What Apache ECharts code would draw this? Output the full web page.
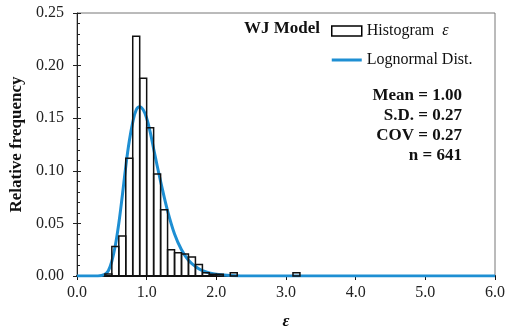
<!DOCTYPE html>
<html>
<head>
<meta charset="utf-8">
<script src="https://cdn.jsdelivr.net/npm/echarts@6/dist/echarts.min.js"></script>
<style>
  html, body { margin: 0; padding: 0; background: #fff; }
  #chart { width: 508px; height: 335px; }
</style>
</head>
<body>
<div id="chart"></div>
<script>
/* ── Data ──────────────────────────────────────────── */
// histogram bins (left edge, width 0.1) and relative frequency
const binStarts = [0.4, 0.5, 0.6, 0.7, 0.8, 0.9, 1.0, 1.1, 1.2, 1.3, 1.4, 1.5, 1.6, 1.7, 1.8, 1.9, 2.0, 2.2, 3.1];
const binFreq   = [0.002, 0.028, 0.038, 0.112, 0.228, 0.188, 0.141, 0.097, 0.063, 0.025, 0.022, 0.021, 0.018, 0.011, 0.003, 0.0016, 0.0016, 0.003, 0.003];
const binWidth = 0.1;

// lognormal curve, points
const curveX = [0, 0.3, 0.4, 0.45, 0.5, 0.55, 0.6, 0.65, 0.7, 0.75, 0.8, 0.85, 0.9, 0.95, 1.0, 1.05, 1.1, 1.15, 1.2, 1.3, 1.4, 1.5, 1.6, 1.7, 1.8, 1.9, 2.0, 2.2, 2.5, 3.0, 4.0, 5.0, 6.0];
const curveY = [0, 0, 0.0015, 0.005, 0.014, 0.029, 0.050, 0.076, 0.104, 0.128, 0.146, 0.158, 0.161, 0.158, 0.150, 0.137, 0.121, 0.105, 0.090, 0.062, 0.040, 0.025, 0.015, 0.009, 0.005, 0.003, 0.0017, 0.0005, 0, 0, 0, 0, 0];

const statLines = ["Mean = 1.00", "S.D. = 0.27", "COV = 0.27", "n = 641"];

const FONT = "'Liberation Serif', 'Times New Roman', serif";
const BLUE = "#1e8fd3";

const chart = echarts.init(document.getElementById("chart"));

const histData = binStarts.map((s, i) => [s, s + binWidth, binFreq[i]]);
const curveData = curveX.map((x, i) => [x, curveY[i]]);

const option = {
  animation: false,
  backgroundColor: "#fff",
  grid: { left: 77, right: 9, top: 13, bottom: 56, show: true, borderColor: "#777", borderWidth: 1 },
  legend: {
    orient: "vertical",
    left: 331,
    top: 23,
    padding: 0,
    itemWidth: 30,
    itemHeight: 10,
    itemGap: 13,
    textStyle: {
      fontFamily: FONT, fontSize: 16, color: "#111",
      rich: { e: { fontFamily: FONT, fontSize: 16, fontStyle: "italic", color: "#111" } },
    },
    formatter: (name) => name === "Histogram" ? "Histogram  {e|ε}" : name,
    data: [
      { name: "Histogram", icon: "rect", itemStyle: { color: "#fff", borderColor: "#000", borderWidth: 1.5 } },
      { name: "Lognormal Dist.", icon: "path://M0,0 L30,0 L30,3 L0,3 Z", itemStyle: { color: BLUE } },
    ],
  },
  graphic: [
    {
      type: "text", x: 320, y: 20,
      style: { text: "WJ Model", font: `bold 17px ${FONT}`, fill: "#111", align: "right" },
    },
  ].concat(statLines.map((t, i) => ({
    type: "text", x: 462, y: 87 + i * 20,
    style: { text: t, font: `bold 17px ${FONT}`, fill: "#111", align: "right" },
  }))),
  xAxis: {
    type: "value",
    min: 0, max: 6, interval: 1,
    name: "ε",
    nameLocation: "middle",
    nameGap: 37,
    nameTextStyle: { fontFamily: FONT, fontSize: 17, fontWeight: "bold", fontStyle: "italic", color: "#111" },
    axisLine: { lineStyle: { color: "#111", width: 2 } },
    axisTick: { show: true, inside: false, length: 4, lineStyle: { color: "#111" } },
    axisLabel: { fontFamily: FONT, fontSize: 16, color: "#222", margin: 9, formatter: (v) => v.toFixed(1) },
    splitLine: { show: false },
  },
  yAxis: [
    {
      type: "value",
      min: 0, max: 0.25, interval: 0.05,
      name: "Relative frequency",
      nameLocation: "middle",
      nameGap: 49,
      nameTextStyle: { fontFamily: FONT, fontSize: 17, fontWeight: "bold", color: "#111" },
      axisLine: { show: true, lineStyle: { color: "#222", width: 1 } },
      axisTick: { show: true, inside: false, length: 4, lineStyle: { color: "#222" } },
      axisLabel: { fontFamily: FONT, fontSize: 16, color: "#222", margin: 13, formatter: (v) => v.toFixed(2) },
      splitLine: { show: false },
    },
    {
      type: "value",
      position: "left",
      min: 0, max: 0.25, interval: 0.05,
      axisLine: { show: false },
      axisTick: { show: true, inside: true, length: 4, lineStyle: { color: "#222" } },
      minorTick: { show: true, splitNumber: 5, length: 3, lineStyle: { color: "#222" } },
      axisLabel: { show: false },
      splitLine: { show: false },
    },
  ],
  series: [
    {
      name: "Lognormal Dist.",
      type: "line",
      data: curveData,
      smooth: 0.4,
      symbol: "none",
      lineStyle: { color: BLUE, width: 3 },
      itemStyle: { color: BLUE },
      z: 2,
    },
    {
      name: "Histogram",
      type: "custom",
      data: histData,
      encode: { x: [0, 1], y: 2 },
      z: 3,
      renderItem: (params, api) => {
        const p0 = api.coord([api.value(0), api.value(2)]);
        const p1 = api.coord([api.value(1), 0]);
        return {
          type: "rect",
          shape: { x: p0[0], y: p0[1], width: p1[0] - p0[0], height: p1[1] - p0[1] },
          style: { fill: "rgba(255,255,255,0)", stroke: "#111", lineWidth: 1.5 },
        };
      },
    },
  ],
};

chart.setOption(option);
</script>
</body>
</html>
